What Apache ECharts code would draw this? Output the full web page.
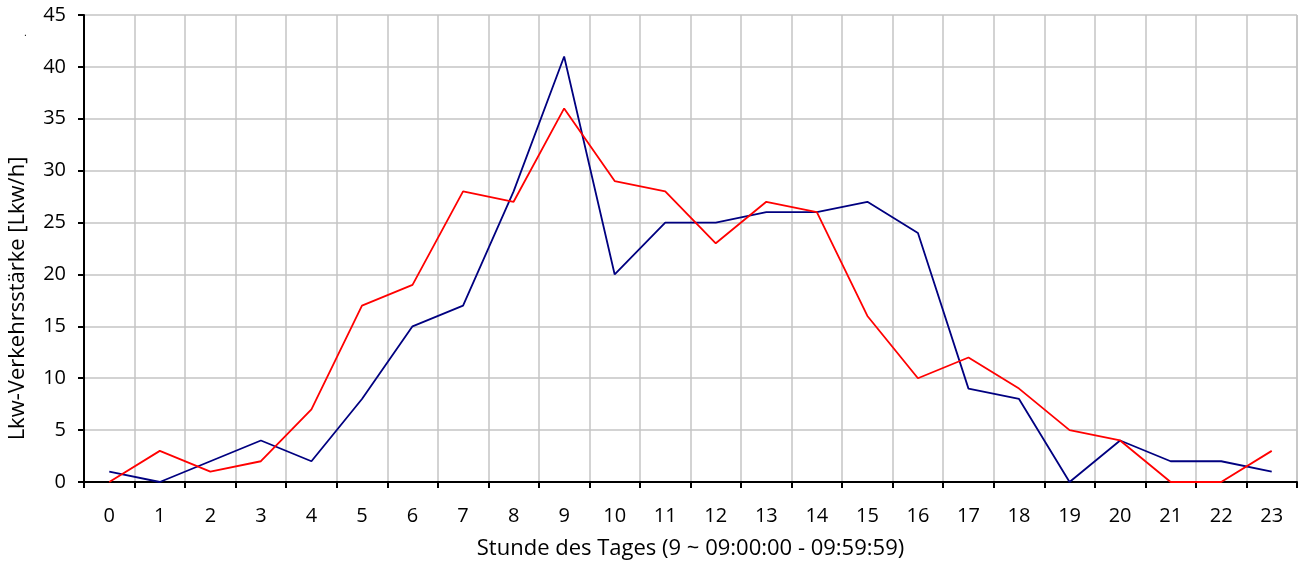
<!DOCTYPE html>
<html>
<head>
<meta charset="utf-8">
<script src="https://cdn.jsdelivr.net/npm/echarts@6/dist/echarts.min.js"></script>
<style>
  html, body { margin: 0; padding: 0; background: #fff; }
  #main { width: 1306px; height: 563px; }
</style>
</head>
<body>
<div id="main"></div>
<script>
// Stunden 0..23
var hours = ['0','1','2','3','4','5','6','7','8','9','10','11','12','13','14','15','16','17','18','19','20','21','22','23'];
// blaue Linie
var seriesBlue = [1, 0, 2, 4, 2, 8, 15, 17, 28, 41, 20, 25, 25, 26, 26, 27, 24, 9, 8, 0, 4, 2, 2, 1];
// rote Linie
var seriesRed = [0, 3, 1, 2, 7, 17, 19, 28, 27, 36, 29, 28, 23, 27, 26, 16, 10, 12, 9, 5, 4, 0, 0, 3];

var chart = echarts.init(document.getElementById('main'));
var font = 'Open Sans';

var option = {
  backgroundColor: '#ffffff',
  animation: false,
  grid: { left: 84, right: 9, top: 15, bottom: 81, outerBoundsMode: 'none' },
  xAxis: {
    type: 'category',
    data: hours,
    boundaryGap: true,
    name: 'Stunde des Tages (9 ~ 09:00:00 - 09:59:59)',
    nameLocation: 'middle',
    nameGap: 56,
    nameTextStyle: { fontFamily: font, fontSize: 22, color: '#000' },
    axisLine: { lineStyle: { color: '#000', width: 2 } },
    axisTick: { show: true, length: 6, lineStyle: { color: '#000', width: 2 } },
    axisLabel: { fontFamily: font, fontSize: 20, color: '#000', margin: 24 },
    splitLine: { show: true, lineStyle: { color: '#c4c4c4', width: 1.5 } }
  },
  yAxis: {
    type: 'value',
    min: 0,
    max: 45,
    interval: 5,
    name: 'Lkw-Verkehrsstärke [Lkw/h]',
    nameLocation: 'middle',
    nameGap: 55,
    // nach unten verschoben wie im Original
    nameTextStyle: { fontFamily: font, fontSize: 22, color: '#000', padding: [0, 100, 0, 0] },
    axisLine: { show: true, lineStyle: { color: '#000', width: 2 } },
    axisTick: { show: true, length: 6, lineStyle: { color: '#000', width: 2 } },
    axisLabel: { fontFamily: font, fontSize: 20, color: '#000', margin: 18 },
    splitLine: { show: true, lineStyle: { color: '#c4c4c4', width: 1.5 } }
  },
  series: [
    {
      type: 'line',
      data: seriesBlue,
      symbol: 'none',
      lineStyle: { color: '#000080', width: 1.8 },
      z: 3
    },
    {
      type: 'line',
      data: seriesRed,
      symbol: 'none',
      lineStyle: { color: '#ff0000', width: 1.8 },
      z: 4
    }
  ],
  graphic: [
    { type: 'text', left: 24, top: 28, style: { text: '.', fontSize: 10, fill: '#000' } },
    { type: 'line', shape: { x1: 1297, y1: 15, x2: 1297, y2: 482 }, style: { stroke: '#c4c4c4', lineWidth: 1.5 } }
  ]
};

chart.setOption(option);
</script>
</body>
</html>
